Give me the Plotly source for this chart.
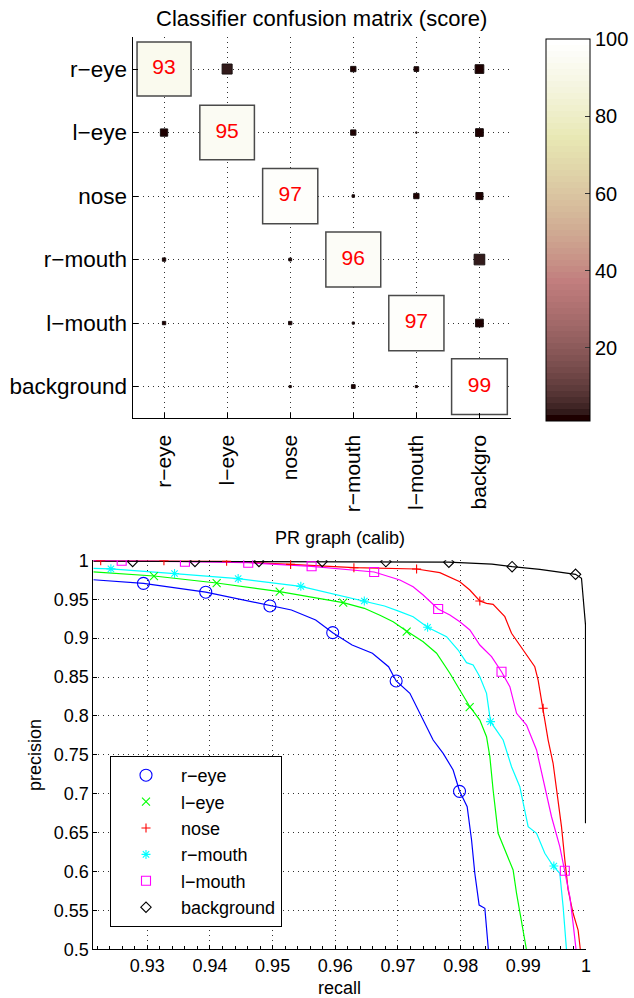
import plotly.graph_objects as go
import numpy as np

W, H = 634, 998
FONT = "Liberation Sans, Arial, Helvetica, sans-serif"

# ---------------- confusion matrix data ----------------
row_labels = ["r−eye", "l−eye", "nose", "r−mouth", "l−mouth", "background"]
col_labels = ["r−eye", "l−eye", "nose", "r−mouth", "l−mouth", "backgro"]
confusion = [
    [93, 3.2, 0, 0.9, 0.7, 2.4],
    [1.7, 95, 0, 0.9, 0.05, 1.9],
    [0, 0, 97, 0.2, 0.9, 1.6],
    [0.35, 0, 0.25, 96, 0, 3.6],
    [0.35, 0, 0.35, 0.15, 97, 1.9],
    [0, 0, 0.15, 0.45, 0.15, 99],
]
cbar_ticks = [20, 40, 60, 80, 100]
cbar_min, cbar_max = 1, 100

# ---------------- PR graph data ----------------
reye_recall = [0.92139, 0.92939, 0.93933, 0.94957, 0.9530, 0.95687, 0.95959, 0.96268, 0.96592,
               0.9685, 0.96971, 0.9719, 0.9735, 0.97561, 0.97721, 0.9788, 0.97982, 0.98104,
               0.98174, 0.98226, 0.98295, 0.98386, 0.98442]
reye_precision = [0.9750, 0.9704, 0.9590, 0.9413, 0.9361, 0.9233, 0.9070, 0.8911, 0.8805,
                  0.8632, 0.8449, 0.8290, 0.8033, 0.7690, 0.7519, 0.7305, 0.7035, 0.6833,
                  0.6405, 0.5977, 0.5569, 0.5527, 0.5000]
reye_mk_recall = [0.92939, 0.93933, 0.94957, 0.95959, 0.96971, 0.97982]
reye_mk_precision = [0.9704, 0.9590, 0.9413, 0.9070, 0.8449, 0.7030]

leye_recall = [0.92139, 0.93107, 0.94107, 0.95112, 0.96126, 0.96463, 0.96721, 0.96923, 0.97137,
               0.97402, 0.97616, 0.97721, 0.97828, 0.97987, 0.98147, 0.98306, 0.98413, 0.98466,
               0.98518, 0.98598, 0.98732, 0.98837, 0.98892, 0.98971, 0.99051]
leye_precision = [0.9850, 0.9798, 0.9708, 0.9597, 0.9455, 0.9383, 0.9290, 0.9211, 0.9090,
                  0.8954, 0.8805, 0.8676, 0.8548, 0.8333, 0.8118, 0.7947, 0.7733, 0.7476,
                  0.7048, 0.6491, 0.6234, 0.6019, 0.5720, 0.5334, 0.4991]
leye_mk_recall = [0.93107, 0.94107, 0.95112, 0.96126, 0.97139, 0.98144]
leye_mk_precision = [0.9798, 0.9708, 0.9597, 0.9455, 0.9082, 0.8114]

nose_recall = [0.92139, 0.92257, 0.93266, 0.94266, 0.95287, 0.96297, 0.97297, 0.97668, 0.97987,
               0.98146, 0.98306, 0.98413, 0.98518, 0.98705, 0.98812, 0.98997, 0.99183, 0.99236,
               0.99316, 0.99396, 0.99475, 0.99555, 0.99609, 0.99662, 0.99715, 0.99794, 0.99874,
               0.99909]
nose_precision = [0.9995, 0.9995, 0.9995, 0.9987, 0.9947, 0.9905, 0.9888, 0.9841, 0.9725,
                  0.9618, 0.9477, 0.9447, 0.9434, 0.9275, 0.9062, 0.8847, 0.8632, 0.8461,
                  0.8098, 0.7690, 0.7391, 0.6919, 0.6576, 0.6149, 0.5762, 0.5463, 0.5248,
                  0.5000]
nose_mk_recall = [0.92257, 0.93266, 0.94266, 0.95287, 0.96297, 0.97297, 0.98306, 0.99316]
nose_mk_precision = [0.9995, 0.9995, 0.9987, 0.9947, 0.9905, 0.9888, 0.9477, 0.8098]

rmouth_recall = [0.92139, 0.92420, 0.93435, 0.94450, 0.95450, 0.96463, 0.96785, 0.97031, 0.97242,
                 0.97472, 0.97775, 0.97960, 0.98094, 0.98199, 0.98306, 0.98413, 0.98477, 0.98678,
                 0.98812, 0.98944, 0.99077, 0.99211, 0.99343, 0.99475, 0.99582, 0.99635, 0.99689]
rmouth_precision = [0.9897, 0.9890, 0.9830, 0.9765, 0.9665, 0.9477, 0.9413, 0.9340, 0.9275,
                    0.9139, 0.9018, 0.8847, 0.8684, 0.8654, 0.8504, 0.8290, 0.7926, 0.7690,
                    0.7347, 0.7090, 0.6576, 0.6491, 0.6234, 0.6071, 0.5977, 0.5548, 0.4991]
rmouth_mk_recall = [0.92420, 0.93435, 0.94450, 0.95450, 0.96463, 0.97473, 0.98477, 0.99487]
rmouth_mk_precision = [0.9890, 0.9830, 0.9765, 0.9665, 0.9477, 0.9139, 0.7926, 0.6071]

lmouth_recall = [0.92139, 0.92592, 0.93601, 0.94611, 0.95622, 0.96620, 0.97031, 0.97242, 0.97402,
                 0.97641, 0.97828, 0.97987, 0.98147, 0.98306, 0.98493, 0.98652, 0.98785, 0.98892,
                 0.99051, 0.99211, 0.99316, 0.99450, 0.99582, 0.99662, 0.99742, 0.99794, 0.99842]
lmouth_precision = [0.9995, 0.9993, 0.9982, 0.9969, 0.9923, 0.9850, 0.9747, 0.9660, 0.9554,
                    0.9374, 0.9297, 0.9211, 0.9104, 0.8911, 0.8761, 0.8568, 0.8375, 0.8033,
                    0.7883, 0.7562, 0.7176, 0.6704, 0.6319, 0.6010, 0.5676, 0.5334, 0.4991]
lmouth_mk_recall = [0.92592, 0.93601, 0.94611, 0.95622, 0.96620, 0.97641, 0.98652, 0.99662]
lmouth_mk_precision = [0.9995, 0.9982, 0.9969, 0.9923, 0.9850, 0.9374, 0.8568, 0.6010]

bg_recall = [0.92139, 0.9600, 0.9781, 0.9850, 0.98821, 0.99263, 0.99582, 0.99833, 0.99928,
             0.99992, 0.99992]
bg_precision = [0.9988, 0.9986, 0.9976, 0.9950, 0.9918, 0.9884, 0.9853, 0.9820, 0.9769,
                0.9170, 0.6620]
bg_mk_recall = [0.92767, 0.93761, 0.94782, 0.95791, 0.96807, 0.97812, 0.98821, 0.99833]
bg_mk_precision = [0.9985, 0.9985, 0.9985, 0.9985, 0.9983, 0.9975, 0.9918, 0.9820]

pr_x_ticks = [0.93, 0.94, 0.95, 0.96, 0.97, 0.98, 0.99, 1.0]
pr_x_text = ["0.93", "0.94", "0.95", "0.96", "0.97", "0.98", "0.99", "1"]
pr_y_ticks = [0.5, 0.55, 0.6, 0.65, 0.7, 0.75, 0.8, 0.85, 0.9, 0.95, 1.0]
pr_y_text = ["0.5", "0.55", "0.6", "0.65", "0.7", "0.75", "0.8", "0.85", "0.9", "0.95", "1"]


# ---------------- MATLAB "pink" colormap ----------------
def pink_colorscale(m=64):
    n1 = int(3 / 8 * m)
    cs = []
    for i in range(m):
        r = (i + 1) / n1 if i < n1 else 1.0
        g = 0.0 if i < n1 else ((i - n1 + 1) / n1 if i < 2 * n1 else 1.0)
        b = 0.0 if i < 2 * n1 else (i - 2 * n1 + 1) / (m - 2 * n1)
        gr = i / (m - 1)
        rr, gg, bb = [np.sqrt((2 * gr + c) / 3) for c in (r, g, b)]
        col = "rgb(%d,%d,%d)" % (round(rr * 255), round(gg * 255), round(bb * 255))
        cs.append([i / m, col])
        cs.append([(i + 1) / m, col])
    return cs


fig = go.Figure()

# ---------------- confusion matrix as sized squares ----------------
cx, cy, cv, csz, clw, clc = [], [], [], [], [], []
for i, row in enumerate(confusion):
    for j, v in enumerate(row):
        if v <= 0:
            continue
        cx.append(j + 1)
        cy.append(i + 1)
        cv.append(v)
        csz.append(max(5.6 * np.sqrt(v), 1.0))
        if i == j:
            clw.append(1.5)
            clc.append("#4a4a4a")
        else:
            clw.append(1.0)
            clc.append("#1a1010")

fig.add_trace(go.Scatter(
    x=cx, y=cy, mode="markers", xaxis="x", yaxis="y", showlegend=False, hoverinfo="skip",
    marker=dict(symbol="square", size=csz, color=cv, colorscale=pink_colorscale(),
                cmin=cbar_min, cmax=cbar_max, opacity=1,
                line=dict(width=clw, color=clc),
                showscale=True,
                colorbar=dict(x=546 / W, xanchor="left", y=1 - 39.3 / H, yanchor="top",
                              len=382, lenmode="pixels", thickness=44, thicknessmode="pixels",
                              xpad=0, ypad=0, outlinewidth=1, outlinecolor="black",
                              tickvals=cbar_ticks, ticks="inside", ticklen=5,
                              tickcolor="#333333",
                              tickfont=dict(family=FONT, size=20, color="black")))
))

diag_x = [i + 1 for i in range(len(confusion))]
diag_text = [str(int(round(confusion[i][i]))) for i in range(len(confusion))]
fig.add_trace(go.Scatter(
    x=diag_x, y=diag_x, mode="text", text=diag_text, xaxis="x", yaxis="y",
    showlegend=False, hoverinfo="skip",
    textfont=dict(family=FONT, size=21, color="#ff0000"), textposition="middle center"
))

# ---------------- PR curves ----------------
series = [
    ("r−eye", "#0000ff", "circle-open", 12, reye_recall, reye_precision, reye_mk_recall, reye_mk_precision),
    ("l−eye", "#00ff00", "x-thin", 8, leye_recall, leye_precision, leye_mk_recall, leye_mk_precision),
    ("nose", "#ff0000", "cross-thin", 6.5, nose_recall, nose_precision, nose_mk_recall, nose_mk_precision),
    ("r−mouth", "#00ffff", "asterisk", 7.5, rmouth_recall, rmouth_precision, rmouth_mk_recall, rmouth_mk_precision),
    ("l−mouth", "#ff00ff", "square-open", 9, lmouth_recall, lmouth_precision, lmouth_mk_recall, lmouth_mk_precision),
    ("background", "#000000", "diamond-open", 8, bg_recall, bg_precision, bg_mk_recall, bg_mk_precision),
]
for name, color, sym, sz, rx, py, mx, my in series:
    fig.add_trace(go.Scatter(x=rx, y=py, mode="lines", xaxis="x2", yaxis="y2",
                             line=dict(color=color, width=1.2), showlegend=False,
                             hoverinfo="skip"))
for name, color, sym, sz, rx, py, mx, my in series:
    fig.add_trace(go.Scatter(x=mx, y=my, mode="markers", xaxis="x2", yaxis="y2", name=name,
                             marker=dict(symbol=sym, size=sz, color=color,
                                         line=dict(color=color, width=1.1)),
                             hoverinfo="skip"))

grid_common = dict(showgrid=True, gridcolor="#333333", gridwidth=1, griddash="1px,4px",
                   zeroline=False, showline=True, linecolor="black", linewidth=1,
                   ticks="inside", tickcolor="black", mirror=False)

fig.update_layout(
    width=W, height=H, margin=dict(l=0, r=0, t=0, b=0, autoexpand=False),
    paper_bgcolor="white", plot_bgcolor="white",
    font=dict(family=FONT, color="black"),
    xaxis=dict(domain=[132.5 / W, 511 / W], range=[0.5, 6.5], anchor="y",
               tickvals=list(range(1, 7)), ticktext=col_labels, tickangle=-90,
               ticklen=5, ticklabelstandoff=7, tickfont=dict(size=21), **grid_common),
    yaxis=dict(domain=[1 - 418.3 / H, 1 - 37.3 / H], range=[6.5, 0.5], anchor="x",
               tickvals=list(range(1, 7)), ticktext=row_labels,
               ticklen=5, tickfont=dict(size=22.5), **grid_common),
    xaxis2=dict(domain=[93.3 / W, 586 / W], range=[0.92139, 1.0], anchor="y2",
                tickvals=pr_x_ticks, ticktext=pr_x_text, ticklen=4,
                tickfont=dict(size=18),
                minor=dict(dtick=0.002, ticks="inside", ticklen=3, tickcolor="black", showgrid=False),
                **grid_common),
    yaxis2=dict(domain=[1 - 949.3 / H, 1 - 560.3 / H], range=[0.5, 1.0], anchor="x2",
                tickvals=pr_y_ticks, ticktext=pr_y_text, ticklen=4,
                tickfont=dict(size=18), **grid_common),
    legend=dict(x=110 / W, y=1 - 756 / H, xanchor="left", yanchor="top",
                bgcolor="white", bordercolor="black", borderwidth=1,
                font=dict(family=FONT, size=18), itemwidth=60, tracegroupgap=0),
    annotations=[
        dict(text="Classifier confusion matrix (score)", x=322 / W, y=1 - 19 / H,
             xref="paper", yref="paper", showarrow=False, xanchor="center", yanchor="middle",
             font=dict(size=22)),
        dict(text="PR graph (calib)", x=340 / W, y=1 - 538 / H,
             xref="paper", yref="paper", showarrow=False, xanchor="center", yanchor="middle",
             font=dict(size=18)),
        dict(text="recall", x=339 / W, y=1 - 988 / H,
             xref="paper", yref="paper", showarrow=False, xanchor="center", yanchor="middle",
             font=dict(size=18)),
        dict(text="precision", x=35 / W, y=1 - 755 / H, textangle=-90,
             xref="paper", yref="paper", showarrow=False, xanchor="center", yanchor="middle",
             font=dict(size=18)),
    ],
)

fig.write_html("out.html", config={"displayModeBar": False},
               post_script="document.body.style.margin='0';document.body.style.overflow='hidden';")
